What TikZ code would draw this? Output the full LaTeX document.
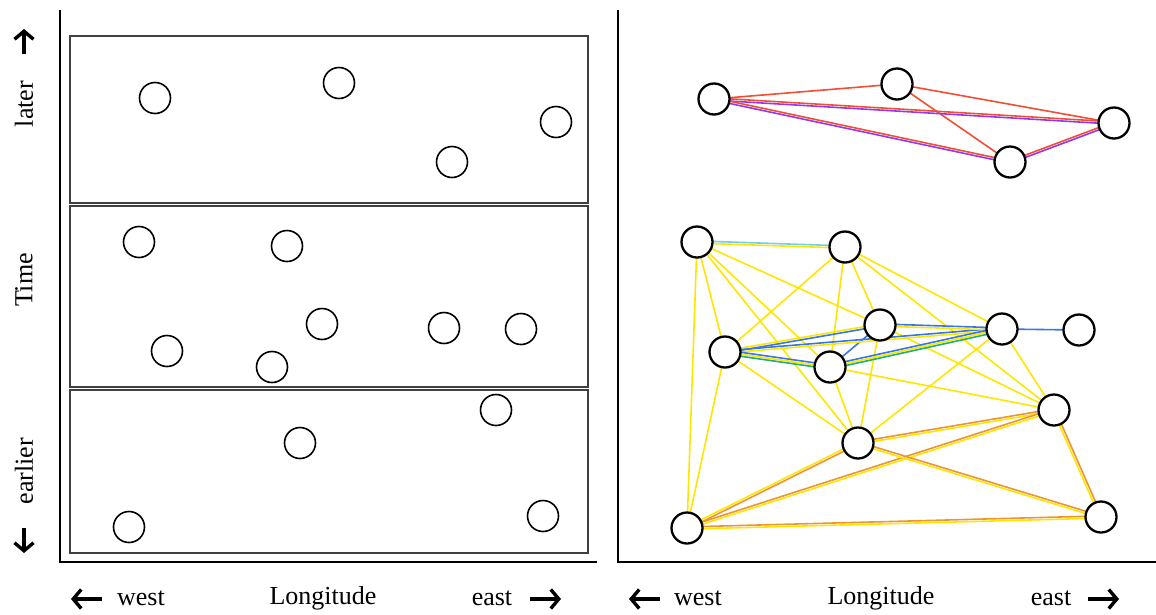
\documentclass[tikz,border=0pt]{standalone}
\usepackage{fontspec}
\setmainfont{Liberation Serif}
\usetikzlibrary{calc,backgrounds,arrows.meta}
\definecolor{ylw}{HTML}{FFE600}
\definecolor{org}{HTML}{EC9436}
\definecolor{blu}{HTML}{3676EA}
\definecolor{grn}{HTML}{1EAE78}
\definecolor{cyn}{HTML}{72CDEE}
\definecolor{rd}{HTML}{F24E34}
\definecolor{prp}{HTML}{9438F0}
\tikzset{
  obs/.style={circle,draw,line width=1.6pt,minimum size=31pt,inner sep=0pt},
  site/.style={circle,draw,line width=2.3pt,minimum size=31pt,inner sep=0pt,fill=white},
  slice/.style={draw=black!75,line width=1.3pt},
  axis/.style={line width=2.4pt},
  lbl/.style={font=\fontsize{26}{30}\selectfont},
  dirarrow/.style={->,>={Straight Barb[length=8pt,width=19pt,line width=3.4pt]},line width=3.4pt}
}
% link between two sites, shifted sideways by #3
\newcommand{\link}[4]{\draw[#4,line width=1.6pt] ($(#1)!#3!90:(#2)$) -- ($(#2)!#3!-90:(#1)$);}
\begin{document}
\begin{tikzpicture}[x=1pt,y=-1pt]
  \useasboundingbox (0,0) rectangle (1156,614);
  % axes
  \draw[axis] (60,10) -- (60,562) -- (597,562);
  \draw[axis] (618,10) -- (618,562) -- (1156,562);
  % time slices
  \draw[slice] (70,36) rectangle (588,203);
  \draw[slice] (70,206) rectangle (588,387);
  \draw[slice] (70,390) rectangle (588,553);
  % observations, left
  \node[obs] (l1) at (155,98) {};
  \node[obs] (l2) at (339,83) {};
  \node[obs] (l3) at (452,162) {};
  \node[obs] (l4) at (556,122) {};
  \node[obs] (l5) at (139,242) {};
  \node[obs] (l6) at (287,246) {};
  \node[obs] (l7) at (322,324) {};
  \node[obs] (l8) at (444,328) {};
  \node[obs] (l9) at (521,329) {};
  \node[obs] (l10) at (167,351) {};
  \node[obs] (l11) at (272,367) {};
  \node[obs] (l12) at (496,410) {};
  \node[obs] (l13) at (300,443) {};
  \node[obs] (l14) at (129,527) {};
  \node[obs] (l15) at (543,516) {};
  % sites, right
  \node[site] (r1) at (714,99) {};
  \node[site] (r2) at (897,84) {};
  \node[site] (r3) at (1010,162) {};
  \node[site] (r4) at (1114,123) {};
  \node[site] (s1) at (697,242) {};
  \node[site] (s2) at (845,247) {};
  \node[site] (s3) at (880,325) {};
  \node[site] (s4) at (1002,329) {};
  \node[site] (s5) at (1079,330) {};
  \node[site] (s6) at (725,352) {};
  \node[site] (s7) at (830,367) {};
  \node[site] (s8) at (1054,410) {};
  \node[site] (s9) at (858,443) {};
  \node[site] (s10) at (687,528) {};
  \node[site] (s11) at (1101,517) {};
  \begin{pgfonlayer}{background}
    % later group
    \link{r1}{r2}{0pt}{rd}
    \link{r2}{r4}{0pt}{rd}
    \link{r2}{r3}{0pt}{rd}
    \link{r1}{r4}{1.1pt}{rd} \link{r1}{r4}{-1.1pt}{prp}
    \link{r1}{r3}{1.1pt}{rd} \link{r1}{r3}{-1.1pt}{prp}
    \link{r3}{r4}{1.1pt}{rd} \link{r3}{r4}{-1.1pt}{prp}
    % earlier group
    \link{s1}{s10}{0pt}{ylw}
    \link{s1}{s6}{0pt}{ylw}
    \link{s1}{s3}{0pt}{ylw}
    \link{s1}{s7}{0pt}{ylw}
    \link{s1}{s9}{0pt}{ylw}
    \link{s6}{s2}{0pt}{ylw}
    \link{s2}{s7}{0pt}{ylw}
    \link{s2}{s3}{0pt}{ylw}
    \link{s2}{s4}{0pt}{ylw}
    \link{s2}{s8}{0pt}{ylw}
    \link{s3}{s9}{0pt}{ylw}
    \link{s3}{s8}{0pt}{ylw}
    \link{s4}{s8}{0pt}{ylw}
    \link{s9}{s4}{0pt}{ylw}
    \link{s6}{s9}{0pt}{ylw}
    \link{s6}{s10}{0pt}{ylw}
    \link{s7}{s9}{0pt}{ylw}
    \link{s7}{s8}{0pt}{ylw}
    \link{s7}{s3}{0pt}{blu}
    \link{s4}{s5}{0pt}{blu}
    \link{s1}{s2}{1.1pt}{cyn} \link{s1}{s2}{-1.1pt}{ylw}
    \link{s6}{s3}{1.1pt}{ylw} \link{s6}{s3}{-1.1pt}{blu}
    \link{s6}{s4}{1.1pt}{blu} \link{s6}{s4}{-1.1pt}{ylw}
    \link{s3}{s4}{1.1pt}{blu} \link{s3}{s4}{-1.1pt}{ylw}
    \link{s6}{s7}{2pt}{blu} \link{s6}{s7}{0pt}{ylw} \link{s6}{s7}{-2pt}{grn}
    \link{s7}{s4}{2pt}{blu} \link{s7}{s4}{0pt}{ylw} \link{s7}{s4}{-2pt}{grn}
    \link{s9}{s8}{1.1pt}{org} \link{s9}{s8}{-1.1pt}{ylw}
    \link{s10}{s8}{1.1pt}{org} \link{s10}{s8}{-1.1pt}{ylw}
    \link{s10}{s9}{1.1pt}{ylw} \link{s10}{s9}{-1.1pt}{org}
    \link{s10}{s11}{1.1pt}{org} \link{s10}{s11}{-1.1pt}{ylw}
    \link{s9}{s11}{1.1pt}{org} \link{s9}{s11}{-1.1pt}{ylw}
    \link{s8}{s11}{1.1pt}{org} \link{s8}{s11}{-1.1pt}{ylw}
  \end{pgfonlayer}
  % time axis labels
  \node[lbl,rotate=90] (later) at (24,104) {later};
  \node[lbl,rotate=90] (time) at (24,280) {Time};
  \node[lbl,rotate=90] (earlier) at (24,471) {earlier};
  \coordinate (up0) at (24,54);
  \coordinate (up1) at (24,29);
  \coordinate (dn0) at (24,528);
  \coordinate (dn1) at (24,553);
  \draw[dirarrow] (up0) -- (up1);
  \draw[dirarrow] (dn0) -- (dn1);
  % longitude labels
  \node[lbl] (westl) at (141,598) {west};
  \node[lbl] (longl) at (323,598) {Longitude};
  \node[lbl] (eastl) at (492,598) {east};
  \node[lbl] (westr) at (698,598) {west};
  \node[lbl] (longr) at (881,598) {Longitude};
  \node[lbl] (eastr) at (1051,598) {east};
  \coordinate (wl0) at (102,599);
  \coordinate (wl1) at (71,599);
  \coordinate (el0) at (530,599);
  \coordinate (el1) at (561,599);
  \coordinate (wr0) at (660,599);
  \coordinate (wr1) at (629,599);
  \coordinate (er0) at (1088,599);
  \coordinate (er1) at (1119,599);
  \draw[dirarrow] (wl0) -- (wl1);
  \draw[dirarrow] (el0) -- (el1);
  \draw[dirarrow] (wr0) -- (wr1);
  \draw[dirarrow] (er0) -- (er1);
\end{tikzpicture}
\end{document}
